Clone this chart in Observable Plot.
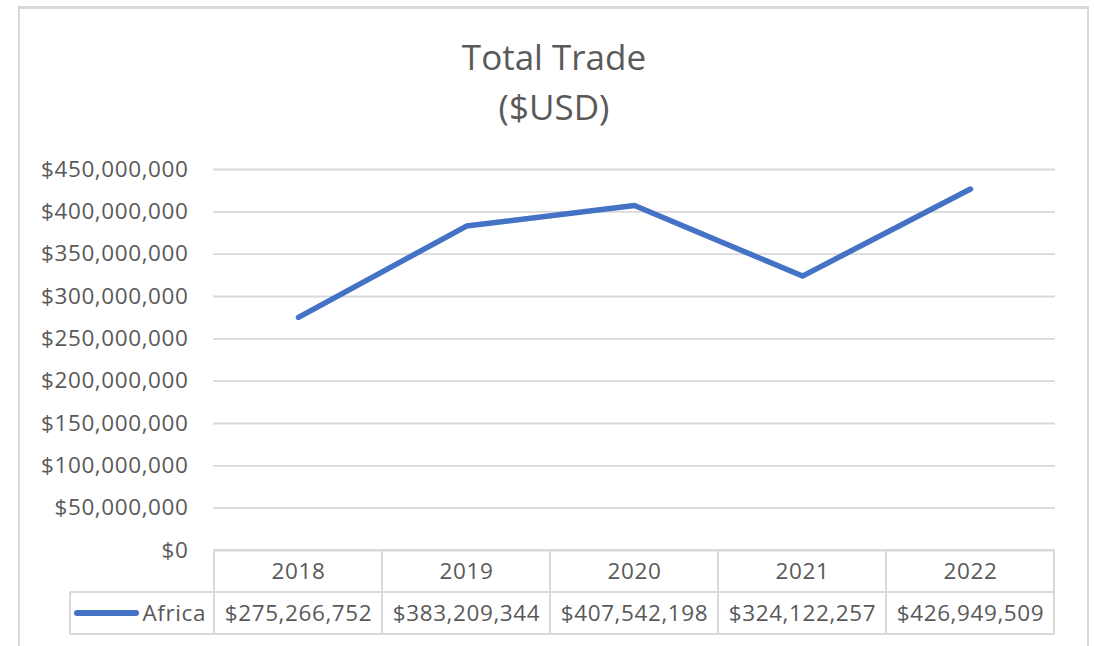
<!DOCTYPE html>
<html><head><meta charset="utf-8">
<script src="https://cdn.jsdelivr.net/npm/d3@7"></script>
<script src="https://cdn.jsdelivr.net/npm/@observablehq/plot@0.6"></script>
<style>
body{margin:0;background:#fff;font-family:"Open Sans",sans-serif;}
#page{position:relative;width:1094px;height:646px;overflow:hidden;}
#frame{position:absolute;left:18px;top:6px;width:1071px;height:700px;border:2px solid #d9d9d9;border-top-width:3px;box-sizing:border-box}
#title{position:relative;height:140px;width:1094px;}
#title div{position:absolute;left:0;width:1108px;text-align:center;color:#595959;font-size:35px;line-height:40px}
#chart{position:relative}
#chart svg text{letter-spacing:0.6px}
</style></head><body>
<div id="page"><div id="frame"></div>
<div id="title"><div style="top:37px">Total Trade</div><div style="top:87px">($USD)</div></div>
<div id="chart"></div></div>
<script>
const years = ["2018","2019","2020","2021","2022"];
const values = [275266752, 383209344, 407542198, 324122257, 426949509];
const seriesName = "Africa";
const yTicks = [0,50e6,100e6,150e6,200e6,250e6,300e6,350e6,400e6,450e6];

const data = years.map((y,i)=>({year:y, value:values[i]}));
const fmt = d => "$" + d3.format(",")(d);
const grey = "#595959", lineCol = "#d9d9d9", blue = "#4472C4";
const fs = 22.5;

const chart = Plot.plot({
  width:1094, height:506, marginTop:29, marginBottom:96, marginLeft:213, marginRight:39,
  style:{fontFamily:"'Open Sans', sans-serif", fontSize:fs+"px", color:grey, background:"transparent", overflow:"visible"},
  x:{type:"band", domain:years, padding:0, axis:null},
  y:{domain:[0,450e6], axis:null},
  marks:[
    Plot.gridY(yTicks,{stroke:lineCol, strokeOpacity:1, strokeWidth:1.8}),
    Plot.axisY(yTicks,{tickSize:0, tickPadding:25, tickFormat:fmt, label:null, fill:grey, fontSize:fs}),
    Plot.line(data,{x:"year", y:"value", stroke:blue, strokeWidth:5.5, strokeLinecap:"round", strokeLinejoin:"round"}),
    Plot.text(years,{x:d=>d, y:()=>0, dy:21, text:d=>d, fill:grey, fontSize:fs}),
    Plot.text(data,{x:"year", y:()=>0, dy:63, text:d=>fmt(d.value), fill:grey, fontSize:fs})
  ]
});
document.getElementById("chart").append(chart);

// data-table grid drawn from the plot's own scales
const xs = chart.scale("x"), ys = chart.scale("y");
const bw = xs.bandwidth;
const y0 = ys.apply(0), rowH = 42;
const xStart = xs.apply(years[0]), xEnd = xs.apply(years[years.length-1]) + bw;
const legendLeft = 70;
const g = d3.select(chart).append("g").attr("stroke", lineCol).attr("stroke-width", 2);
g.append("line").attr("x1", xStart).attr("x2", xEnd).attr("y1", y0).attr("y2", y0);
[1,2].forEach(r => g.append("line").attr("x1", legendLeft).attr("x2", xEnd).attr("y1", y0+r*rowH).attr("y2", y0+r*rowH));
years.forEach(yr => {
  const xv = xs.apply(yr);
  g.append("line").attr("x1", xv).attr("x2", xv).attr("y1", y0).attr("y2", y0+2*rowH);
});
g.append("line").attr("x1", xEnd).attr("x2", xEnd).attr("y1", y0).attr("y2", y0+2*rowH);
g.append("line").attr("x1", legendLeft).attr("x2", legendLeft).attr("y1", y0+rowH).attr("y2", y0+2*rowH);
const leg = d3.select(chart).append("g");
leg.append("line").attr("x1", 77).attr("x2", 136).attr("y1", y0+1.5*rowH).attr("y2", y0+1.5*rowH)
  .attr("stroke", blue).attr("stroke-width", 6).attr("stroke-linecap", "round");
leg.append("text").attr("x", 206).attr("y", y0+1.5*rowH).attr("dy", "0.35em").attr("text-anchor", "end")
  .attr("fill", grey).attr("font-size", fs).text(seriesName);
</script>
</body></html>
